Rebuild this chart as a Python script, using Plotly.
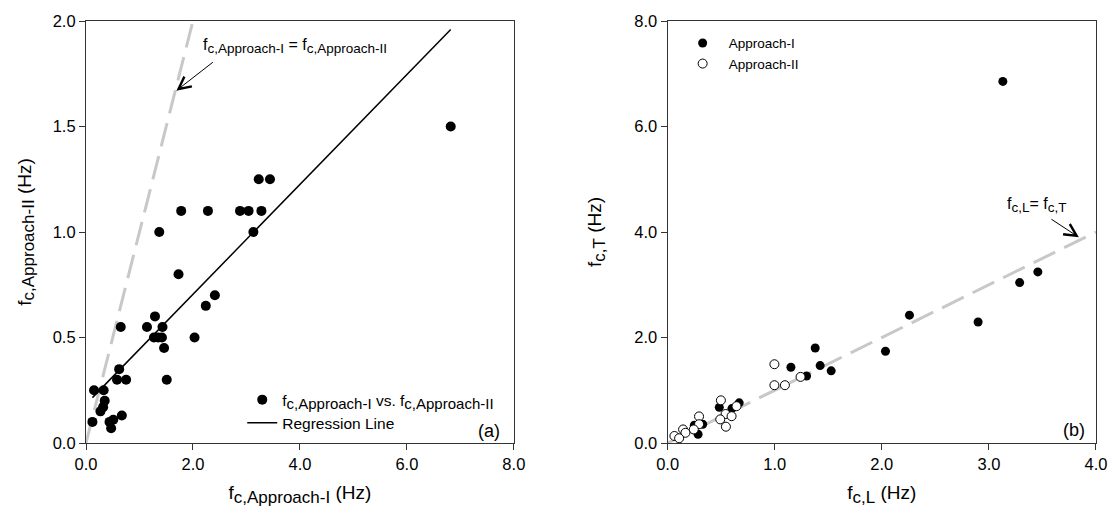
import plotly.graph_objects as go

# ---------------- data: panel (a) ----------------
a_x = [1.73, 2.41, 2.24, 1.29, 0.65, 1.14, 1.43, 1.27, 1.35, 1.42, 2.03, 1.46,
       0.62, 0.58, 0.75, 1.51, 0.15, 0.33, 0.35, 0.32, 0.27, 0.12, 0.51, 0.44,
       0.67, 0.47, 1.37, 1.78, 2.28, 2.88, 3.04, 3.28, 3.23, 3.44, 3.13, 6.82]
a_y = [0.80, 0.70, 0.65, 0.60, 0.55, 0.55, 0.55, 0.50, 0.50, 0.50, 0.50, 0.45,
       0.35, 0.30, 0.30, 0.30, 0.25, 0.25, 0.20, 0.17, 0.15, 0.10, 0.11, 0.10,
       0.13, 0.07, 1.00, 1.10, 1.10, 1.10, 1.10, 1.10, 1.25, 1.25, 1.00, 1.50]
reg_x = [0.12, 6.82]
reg_y = [0.215, 1.96]
eq_a = [0.0, 2.0]

# ---------------- data: panel (b) ----------------
b1_x = [1.378, 1.151, 1.424, 1.527, 1.297, 0.668, 0.482, 0.600, 0.327, 0.249,
        0.284, 2.034, 2.258, 2.899, 3.287, 3.457, 3.13]
b1_y = [1.80, 1.435, 1.467, 1.368, 1.27, 0.761, 0.676, 0.652, 0.356, 0.337,
        0.165, 1.739, 2.424, 2.294, 3.041, 3.244, 6.855]
b2_x = [0.997, 0.997, 1.095, 1.241, 0.497, 0.643, 0.541, 0.597, 0.491, 0.544,
        0.293, 0.293, 0.244, 0.144, 0.166, 0.063, 0.107]
b2_y = [1.493, 1.096, 1.096, 1.253, 0.809, 0.698, 0.550, 0.508, 0.448, 0.309,
        0.504, 0.356, 0.257, 0.257, 0.194, 0.133, 0.090]
eq_b = [0.0, 4.0]

FONT = "Liberation Sans, Arial, sans-serif"
GRAY = "rgb(200,200,200)"


def sub(txt, px):
    return '<sub><span style="font-size:%spx">%s</span></sub>' % (px, txt)


fig = go.Figure()

# panel (a)
fig.add_trace(go.Scatter(x=eq_a, y=eq_a, mode="lines", xaxis="x", yaxis="y",
                         line=dict(color=GRAY, width=3, dash="24px,10px"),
                         showlegend=False, hoverinfo="skip"))
fig.add_trace(go.Scatter(x=a_x, y=a_y, mode="markers", xaxis="x", yaxis="y",
                         marker=dict(color="black", size=10),
                         name="f" + sub("c,Approach-I", 15) + " vs. f" + sub("c,Approach-II", 15),
                         legend="legend"))
fig.add_trace(go.Scatter(x=reg_x, y=reg_y, mode="lines", xaxis="x", yaxis="y",
                         line=dict(color="black", width=1.5),
                         name="Regression Line", legend="legend"))

# panel (b)
fig.add_trace(go.Scatter(x=eq_b, y=eq_b, mode="lines", xaxis="x2", yaxis="y2",
                         line=dict(color=GRAY, width=3, dash="24px,10px"),
                         showlegend=False, hoverinfo="skip"))
fig.add_trace(go.Scatter(x=b1_x, y=b1_y, mode="markers", xaxis="x2", yaxis="y2",
                         marker=dict(color="black", size=9),
                         name="Approach-I", legend="legend2"))
fig.add_trace(go.Scatter(x=b2_x, y=b2_y, mode="markers", xaxis="x2", yaxis="y2",
                         marker=dict(color="white", size=9, line=dict(color="black", width=1)),
                         name="Approach-II", legend="legend2"))

axis_common = dict(showgrid=False, zeroline=False, showline=True, linecolor="#333",
                   linewidth=1.2, mirror=True, ticks="outside", ticklen=6,
                   tickcolor="#333", tickfont=dict(size=16.5, family=FONT, color="black"),
                   tickformat=".1f")

TF = 19
fig.update_layout(
    width=1119, height=511,
    margin=dict(l=86, r=18, t=14, b=67),
    paper_bgcolor="white", plot_bgcolor="white",
    font=dict(family=FONT, color="black"),
    xaxis=dict(domain=[0, 0.4236], range=[0, 8], tickvals=[0, 2, 4, 6, 8],
               title=dict(text="f" + sub("c,Approach-I", 17) + " (Hz)", font=dict(size=TF), standoff=13),
               anchor="y", **axis_common),
    yaxis=dict(domain=[0, 1], range=[0, 2], tickvals=[0, 0.5, 1.0, 1.5, 2.0],
               title=dict(text="f" + sub("c,Approach-II", 17) + " (Hz)", font=dict(size=TF), standoff=16),
               anchor="x", **axis_common),
    xaxis2=dict(domain=[0.5759, 1], range=[0, 4], tickvals=[0, 1, 2, 3, 4],
                title=dict(text="f" + sub("c,L", 17) + " (Hz)", font=dict(size=TF), standoff=13),
                anchor="y2", **axis_common),
    yaxis2=dict(domain=[0, 1], range=[0, 8], tickvals=[0, 2, 4, 6, 8],
                title=dict(text="f" + sub("c,T", 17) + " (Hz)", font=dict(size=TF), standoff=27),
                anchor="x2", **axis_common),
    legend=dict(x=0.1547, y=0.142, xanchor="left", yanchor="top",
                bgcolor="rgba(0,0,0,0)", font=dict(size=15.5, family=FONT),
                tracegroupgap=0),
    legend2=dict(x=0.5848, y=0.984, xanchor="left", yanchor="top",
                 bgcolor="rgba(0,0,0,0)", font=dict(size=13.5, family=FONT),
                 itemwidth=42, tracegroupgap=0),
)

fig.add_annotation(x=1.69, y=1.67, ax=2.40, ay=1.81, xref="x", yref="y",
                   axref="x", ayref="y", text="", showarrow=True,
                   arrowhead=5, arrowsize=2.4, arrowwidth=1, arrowcolor="black")
fig.add_annotation(x=2.15, y=1.88, xref="x", yref="y", xanchor="left", yanchor="middle",
                   text="f" + sub("c,Approach-I", 13.5) + " = f" + sub("c,Approach-II", 13.5),
                   showarrow=False, font=dict(size=16, family=FONT))
fig.add_annotation(x=7.54, y=0.057, xref="x", yref="y", text="(a)", showarrow=False,
                   font=dict(size=18, family=FONT))

fig.add_annotation(x=3.84, y=3.90, ax=3.57, ay=4.26, xref="x2", yref="y2",
                   axref="x2", ayref="y2", text="", showarrow=True,
                   arrowhead=5, arrowsize=2.4, arrowwidth=1, arrowcolor="black")
fig.add_annotation(x=3.15, y=4.52, xref="x2", yref="y2", xanchor="left", yanchor="middle",
                   text="f" + sub("c,L", 13.5) + "= f" + sub("c,T", 13.5),
                   showarrow=False, font=dict(size=16, family=FONT))
fig.add_annotation(x=3.79, y=0.244, xref="x2", yref="y2", text="(b)", showarrow=False,
                   font=dict(size=18, family=FONT))

fig.write_html("out.html")
